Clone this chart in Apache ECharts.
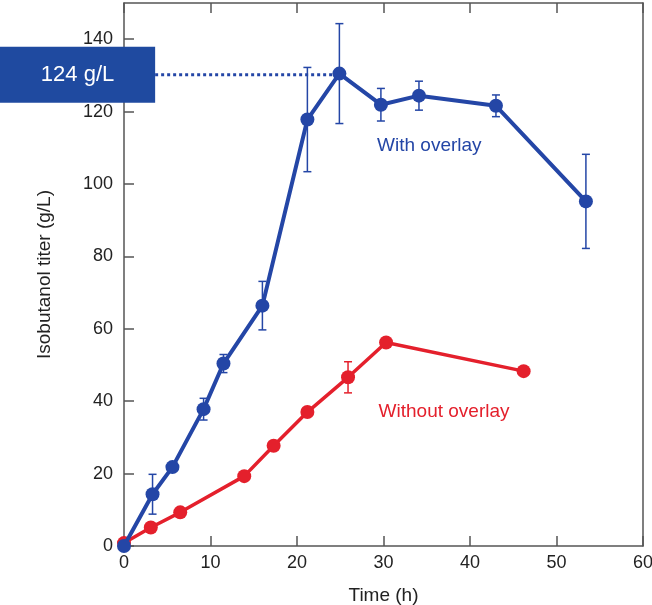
<!DOCTYPE html>
<html>
<head>
<meta charset="utf-8">
<script src="https://cdn.jsdelivr.net/npm/echarts@6/dist/echarts.min.js"></script>
<style>html,body{margin:0;padding:0;background:#fff}#c{width:652px;height:605px}</style>
</head>
<body>
<div id="c"></div>
<script>
// Data
const withTime  = [0, 3.3, 5.6, 9.2, 11.5, 16.0, 21.2, 24.9, 29.7, 34.1, 43.0, 53.4];
const withTiter = [0, 14.3, 21.8, 37.8, 50.4, 66.4, 117.8, 130.5, 121.9, 124.4, 121.6, 95.2];
const withErr   = [0, 5.5, 0.8, 3.0, 2.5, 6.7, 14.4, 13.8, 4.5, 4.0, 3.0, 13.0];
const woTime    = [0, 3.1, 6.5, 13.9, 17.3, 21.2, 25.9, 30.3, 46.2];
const woTiter   = [0.8, 5.1, 9.3, 19.3, 27.7, 37.0, 46.6, 56.2, 48.3];
const woErr     = [0, 0, 0, 0, 0, 0, 4.3, 0, 0];
const xTicks = [0, 10, 20, 30, 40, 50, 60];
const yTicks = [0, 20, 40, 60, 80, 100, 120, 140];
const peakLineX = [3.6, 24.9];
const peakLineY = 130.2;
const boxLabel = '124 g/L';

const BLUE = '#2446a6';
const RED = '#e4202c';
const AX = '#555555';
const FONT = 'Liberation Sans, Arial, sans-serif';

function pairs(xs, ys){ return xs.map((x,i)=>[x, ys[i]]); }
function errData(xs, ys, es){ return xs.map((x,i)=>[x, ys[i]-es[i], ys[i]+es[i]]).filter((d,i)=>es[i]>0); }

function errRender(color){
  return function(params, api){
    const x = api.value(0), lo = api.value(1), hi = api.value(2);
    const p1 = api.coord([x, lo]), p2 = api.coord([x, hi]);
    const hw = 4;
    const st = {stroke: color, lineWidth: 1.5};
    return {type:'group', children:[
      {type:'line', shape:{x1:p1[0],y1:p1[1],x2:p2[0],y2:p2[1]}, style:st},
      {type:'line', shape:{x1:p1[0]-hw,y1:p1[1],x2:p1[0]+hw,y2:p1[1]}, style:st},
      {type:'line', shape:{x1:p2[0]-hw,y1:p2[1],x2:p2[0]+hw,y2:p2[1]}, style:st}
    ]};
  };
}

const chart = echarts.init(document.getElementById('c'), null, {renderer:'canvas'});
const labelStyle = {color:'#222', fontSize:18, fontFamily:FONT};
const option = {
  animation:false,
  grid:{left:124, right:9, top:3, bottom:59, containLabel:false, outerBoundsMode:'none'},
  xAxis:[{
    type:'value', min:0, max:60, interval:10, position:'bottom',
    name:'Time (h)', nameLocation:'middle', nameGap:40,
    nameTextStyle:{color:'#222', fontSize:19, fontFamily:FONT},
    axisLine:{show:true, lineStyle:{color:AX, width:1.5}},
    axisTick:{show:true, inside:true, length:10, lineStyle:{color:AX, width:1.5}},
    axisLabel:Object.assign({margin:8, formatter:v=>xTicks.includes(v)?String(v):''}, labelStyle),
    splitLine:{show:false}
  },{
    type:'value', min:0, max:60, interval:10, position:'top',
    axisLine:{show:true, onZero:false, lineStyle:{color:AX, width:1.5}},
    axisTick:{show:true, inside:true, length:10, lineStyle:{color:AX, width:1.5}},
    axisLabel:{show:false}, splitLine:{show:false}
  }],
  yAxis:[{
    type:'value', min:0, max:150, interval:20, position:'left',
    name:'Isobutanol titer (g/L)', nameLocation:'middle', nameGap:70,
    nameTextStyle:{color:'#222', fontSize:19, fontFamily:FONT},
    axisLine:{show:true, lineStyle:{color:AX, width:1.5}},
    axisTick:{show:true, inside:true, length:10, lineStyle:{color:AX, width:1.5},
      customValues:yTicks},
    axisLabel:Object.assign({margin:11, customValues:yTicks,
      formatter:v=>yTicks.includes(v)?String(v):''}, labelStyle),
    splitLine:{show:false}
  },{
    type:'value', min:0, max:150, position:'right',
    axisLine:{show:true, onZero:false, lineStyle:{color:AX, width:1.5}},
    axisTick:{show:false}, axisLabel:{show:false}, splitLine:{show:false}
  }],
  series:[
    {type:'line', data:pairs(peakLineX,[peakLineY,peakLineY]), symbol:'none', z:1,
      lineStyle:{color:BLUE, width:3, type:[3,3]}},
    {type:'custom', data:errData(woTime, woTiter, woErr), renderItem:errRender(RED), z:2},
    {type:'line', data:pairs(woTime, woTiter), symbol:'circle', symbolSize:14, z:3,
      lineStyle:{color:RED, width:3.5}, itemStyle:{color:RED}},
    {type:'custom', data:errData(withTime, withTiter, withErr), renderItem:errRender(BLUE), z:4},
    {type:'line', data:pairs(withTime, withTiter), symbol:'circle', symbolSize:14, z:5,
      lineStyle:{color:BLUE, width:4}, itemStyle:{color:BLUE}}
  ]
};
chart.setOption(option);

const yc = chart.convertToPixel({yAxisIndex:0}, peakLineY);
const xb = chart.convertToPixel({xAxisIndex:0}, peakLineX[0]);
const lbl1 = chart.convertToPixel({xAxisIndex:0, yAxisIndex:0}, [35.3, 110.5]);
const lbl2 = chart.convertToPixel({xAxisIndex:0, yAxisIndex:0}, [37.0, 37.0]);
chart.setOption({graphic:[
  {type:'rect', left:0, top:yc-28, shape:{width:xb, height:56}, style:{fill:'#1f4aa0'}, z:10},
  {type:'text', x:xb/2, y:yc, style:{text:boxLabel, fill:'#fff', fontSize:22, fontFamily:FONT, align:'center', verticalAlign:'middle'}, z:11},
  {type:'text', x:lbl1[0], y:lbl1[1], style:{text:'With overlay', fill:BLUE, fontSize:19, fontFamily:FONT, align:'center', verticalAlign:'middle'}, z:11},
  {type:'text', x:lbl2[0], y:lbl2[1], style:{text:'Without overlay', fill:RED, fontSize:19, fontFamily:FONT, align:'center', verticalAlign:'middle'}, z:11}
]});
</script>
</body>
</html>
